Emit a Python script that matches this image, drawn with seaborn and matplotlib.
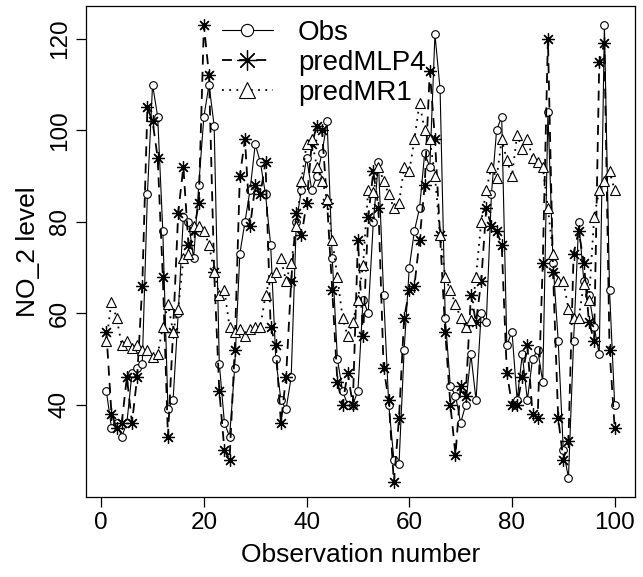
import numpy as np
import pandas as pd
import matplotlib
matplotlib.use("Agg")
import matplotlib.pyplot as plt
import seaborn as sns

obs = [43, 35, 36, 33, 36, 47, 48, 49, 86, 110,
       103, 78, 39, 41, 60, 81, 80, 72, 88, 103,
       110, 101, 49, 36, 33, 48, 73, 80, 87, 97,
       93, 86, 75, 50, 41, 39, 46, 80, 87, 94,
       87, 90, 95, 102, 72, 50, 43, 40, 40, 43,
       63, 60, 80, 93, 64, 40, 28, 27, 52, 70,
       78, 83, 95, 92, 121, 109, 59, 44, 42, 36,
       40, 51, 41, 60, 58, 86, 100, 103, 53, 56,
       41, 51, 41, 50, 52, 45, 104, 71, 54, 30,
       24, 54, 80, 67, 64, 57, 51, 123, 65, 40]

pred_mlp4 = [56, 38, 35, 36, 46, 36, 46, 66, 105, 102,
             94, 68, 33, 56, 82, 92, 75, 78, 84, 123,
             112, 69, 43, 30, 28, 52, 90, 98, 79, 88,
             86, 93, 57, 53, 36, 46, 67, 82, 77, 84,
             97, 101, 100, 84, 65, 45, 40, 47, 40, 76,
             55, 81, 91, 83, 48, 41, 23, 37, 59, 65,
             66, 76, 88, 113, 98, 77, 56, 40, 29, 44,
             42, 64, 58, 67, 83, 79, 78, 75, 47, 40,
             40, 46, 53, 38, 37, 71, 120, 69, 37, 28,
             32, 73, 78, 71, 58, 54, 115, 119, 52, 35]

pred_mr1 = [54, 62.5, 59, 53, 54, 52.5, 53, 52, 52, 50.5,
            51, 57, 62, 56, 61, 72, 73, 79, 79, 78,
            75, 69, 64, 65, 57, 56, 56.5, 55, 56.5, 57,
            57, 64, 68, 69, 72, 67, 71, 79, 89, 97,
            98, 92, 89, 85, 76, 68, 59, 55, 58, 63,
            70.5, 87, 86.5, 92, 89, 86, 83, 84, 92, 91,
            98, 106, 100, 98, 90, 77, 68, 65, 62, 59,
            57, 58.5, 68, 80, 87, 92, 89.5, 98, 93.5, 90,
            99, 96, 98, 94, 93, 92, 83, 73, 67, 67,
            61, 59, 59, 66.5, 63, 81, 87, 89, 91, 87]

obs_number = list(range(1, len(obs) + 1))
series_names = ["Obs", "predMLP4", "predMR1"]
x_ticks = [0, 20, 40, 60, 80, 100]
y_ticks = [40, 60, 80, 100, 120]

df = pd.DataFrame({"n": obs_number, "Obs": obs,
                   "predMLP4": pred_mlp4, "predMR1": pred_mr1})

sns.set_style("white")
plt.rcParams["font.family"] = ["Liberation Sans", "DejaVu Sans"]
plt.rcParams["text.color"] = "black"
plt.rcParams["axes.labelcolor"] = "black"
plt.rcParams["xtick.color"] = "black"
plt.rcParams["ytick.color"] = "black"

fig = plt.figure(figsize=(6.43, 5.77), dpi=100)
ax = fig.add_axes([86/643, 1-497/577, (635-86)/643, (497-6)/577])

styles = {
    "Obs": dict(linestyle="-", marker="o", markersize=5.5, markerfacecolor="white",
                markeredgecolor="black", linewidth=0.8, markeredgewidth=0.8),
    "predMLP4": dict(linestyle=(0, (5.5, 4)), marker=(8, 2, 0), markersize=9,
                     markeredgecolor="black", linewidth=1.3, markeredgewidth=0.9),
    "predMR1": dict(linestyle=(0, (1, 3)), marker="^", markersize=7.5,
                    markerfacecolor="white", markeredgecolor="black",
                    linewidth=1.3, markeredgewidth=0.8),
}
for name in series_names:
    sns.lineplot(data=df, x="n", y=name, ax=ax, color="black", label=name,
                 **styles[name])

ax.set_xlim(-2.96, 103.96)
ax.set_ylim(19.8, 127.2)
ax.set_xticks(x_ticks)
ax.set_yticks(y_ticks)
ax.set_xticklabels([str(t) for t in x_ticks], fontsize=17.5, color="black")
ax.set_yticklabels([str(t) for t in y_ticks], fontsize=17.5, rotation=90,
                   va="center", color="black")
ax.tick_params(axis="both", direction="out", length=7, width=0.9, color="black",
               pad=4, bottom=True, left=True)
for s in ax.spines.values():
    s.set_visible(True)
    s.set_color("black")
    s.set_linewidth(0.9)
ax.set_xlabel("Observation number", fontsize=19, labelpad=6, color="black")
ax.set_ylabel("NO_2 level", fontsize=19, labelpad=6, color="black")

leg = ax.legend(loc="upper left", bbox_to_anchor=(0.247, 0.972), frameon=False,
                fontsize=20, handlelength=1.85, handletextpad=0.9,
                labelspacing=0.15, borderpad=0, borderaxespad=0, markerscale=1.6)
for t in leg.get_texts():
    t.set_color("black")

fig.savefig("out.png", dpi=100)
